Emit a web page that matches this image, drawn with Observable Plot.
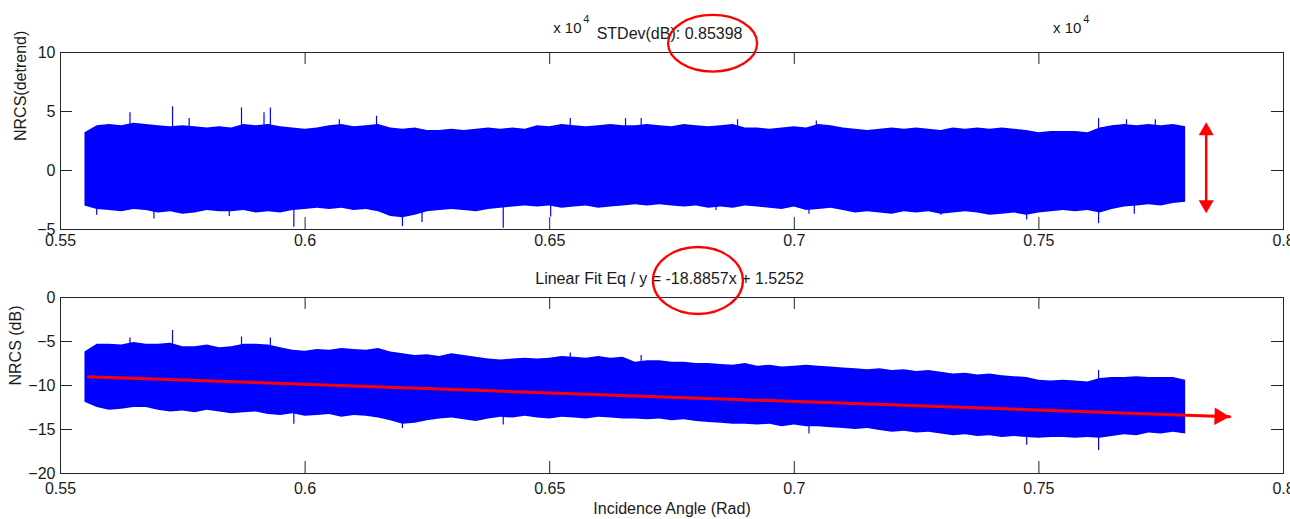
<!DOCTYPE html>
<html>
<head>
<meta charset="utf-8">
<script src="https://cdn.jsdelivr.net/npm/d3@7"></script>
<script src="https://cdn.jsdelivr.net/npm/@observablehq/plot@0.6"></script>
<style>
html, body { margin: 0; padding: 0; background: #ffffff; }
#chart { position: relative; width: 1290px; height: 519px; overflow: hidden; }
#chart svg { position: absolute; left: 0; }
</style>
</head>
<body>
<div id="chart"></div>
<script>
// ---------------- data ----------------
const xTicks = [0.55, 0.6, 0.65, 0.7, 0.75, 0.8];
const xTickLabels = ["0.55", "0.6", "0.65", "0.7", "0.75", "0.8"];
const detrendTicks = [-5, 0, 5, 10];
const dbTicks = [-20, -15, -10, -5, 0];

// incidence angle sample positions (rad)
const angle = [
  0.555,0.5575,0.56,0.5625,0.565,0.5675,0.57,0.5725,0.575,0.5775,
  0.58,0.5825,0.585,0.5875,0.59,0.5925,0.595,0.5975,0.6,0.6025,
  0.605,0.6075,0.61,0.6125,0.615,0.6175,0.62,0.6225,0.625,0.6275,
  0.63,0.6325,0.635,0.6375,0.64,0.6425,0.645,0.6475,0.65,0.6525,
  0.655,0.6575,0.66,0.6625,0.665,0.6675,0.67,0.6725,0.675,0.6775,
  0.68,0.6825,0.685,0.6875,0.69,0.6925,0.695,0.6975,0.7,0.7025,
  0.705,0.7075,0.71,0.7125,0.715,0.7175,0.72,0.7225,0.725,0.7275,
  0.73,0.7325,0.735,0.7375,0.74,0.7425,0.745,0.7475,0.75,0.7525,
  0.755,0.7575,0.76,0.7625,0.765,0.7675,0.77,0.7725,0.775,0.7775,
  0.78
];

// NRCS(detrend): upper / lower envelope of the noisy trace
const detrendUpper = [
  3.2,3.8,3.9,3.8,4.0,3.9,3.8,3.7,3.8,3.7,
  3.6,3.7,3.6,3.9,3.8,3.9,3.7,3.6,3.5,3.6,
  3.8,3.9,3.7,3.8,3.9,3.6,3.5,3.6,3.4,3.4,
  3.5,3.4,3.5,3.6,3.5,3.6,3.5,3.8,3.7,3.9,
  3.8,3.7,3.8,3.9,3.8,3.8,3.9,3.8,3.7,3.9,
  3.8,3.7,3.8,3.9,3.6,3.6,3.5,3.6,3.7,3.6,
  3.9,3.8,3.6,3.5,3.4,3.5,3.6,3.5,3.6,3.5,
  3.4,3.6,3.5,3.6,3.5,3.6,3.5,3.4,3.2,3.3,
  3.3,3.3,3.2,3.6,3.8,3.9,3.8,3.9,3.8,3.9,
  3.7
];
const detrendLower = [
  -3.0,-3.3,-3.4,-3.5,-3.3,-3.4,-3.6,-3.5,-3.7,-3.6,
  -3.4,-3.5,-3.5,-3.4,-3.6,-3.5,-3.6,-3.4,-3.3,-3.2,
  -3.3,-3.2,-3.4,-3.3,-3.5,-3.9,-4.0,-3.8,-3.5,-3.4,
  -3.3,-3.4,-3.5,-3.3,-3.2,-3.1,-3.0,-3.1,-3.0,-3.2,
  -3.1,-3.0,-3.2,-3.1,-3.0,-2.9,-3.0,-2.9,-3.0,-3.1,
  -3.0,-3.2,-3.1,-3.2,-3.0,-3.1,-3.2,-3.3,-3.1,-3.4,
  -3.3,-3.2,-3.4,-3.6,-3.5,-3.6,-3.7,-3.5,-3.6,-3.5,
  -3.7,-3.6,-3.5,-3.6,-3.8,-3.7,-3.6,-3.8,-3.6,-3.5,
  -3.4,-3.5,-3.4,-3.6,-3.3,-3.1,-3.0,-2.9,-3.0,-2.8,
  -2.7
];
// isolated spikes sticking out of the band
const detrendSpikeX = [0.5642,0.5729,0.5763,0.5870,0.5916,0.5929,0.6070,0.6146,0.6542,0.6655,0.6687,0.6884,0.7045,0.7622,0.7679,0.7738,
                       0.5574,0.5691,0.5845,0.5977,0.6199,0.6239,0.6405,0.6502,0.6840,0.7030,0.7300,0.7475,0.7622,0.7695];
const detrendSpikeY = [4.9,5.4,4.4,5.3,4.9,5.3,4.3,4.6,4.4,4.4,4.4,4.3,4.2,4.4,4.3,4.3,
                       -3.8,-4.1,-3.9,-4.8,-4.75,-4.4,-4.9,-3.95,-3.4,-3.7,-3.8,-4.2,-4.5,-3.7];

// NRCS (dB): upper / lower envelope
const dbUpper = [
  -6.2,-5.3,-5.3,-5.4,-5.1,-5.3,-5.3,-5.2,-5.6,-5.6,
  -5.4,-5.7,-5.6,-5.3,-5.3,-5.4,-5.7,-6.0,-6.1,-5.9,
  -6.0,-5.8,-5.9,-6.0,-5.8,-6.2,-6.4,-6.6,-6.5,-6.7,
  -6.4,-6.6,-6.8,-7.0,-7.1,-7.0,-6.9,-7.0,-6.9,-6.7,
  -6.8,-6.9,-6.7,-6.9,-6.8,-7.35,-7.2,-7.2,-7.35,-7.35,
  -7.5,-7.5,-7.6,-7.7,-7.5,-7.8,-7.7,-7.9,-7.8,-7.7,
  -7.8,-7.9,-8.0,-8.1,-8.2,-8.1,-8.3,-8.2,-8.4,-8.3,
  -8.5,-8.7,-8.6,-8.8,-8.7,-8.9,-9.0,-9.1,-9.4,-9.5,
  -9.4,-9.5,-9.6,-9.2,-9.1,-9.1,-9.0,-9.1,-9.1,-9.1,
  -9.4
];
const dbLower = [
  -11.9,-12.5,-12.8,-12.7,-12.5,-12.5,-12.8,-13.0,-12.9,-13.1,
  -12.8,-13.0,-13.2,-13.1,-13.0,-13.3,-13.4,-13.2,-13.5,-13.4,
  -13.3,-13.6,-13.4,-13.5,-13.7,-14.0,-14.4,-14.3,-14.0,-13.8,
  -13.7,-13.9,-14.1,-13.8,-13.6,-13.7,-13.5,-13.7,-13.8,-13.6,
  -13.7,-13.8,-13.6,-13.7,-13.8,-13.8,-13.9,-13.8,-14.0,-13.9,
  -14.1,-14.2,-14.3,-14.4,-14.4,-14.5,-14.4,-14.7,-14.5,-14.7,
  -14.7,-14.8,-14.9,-15.0,-14.9,-15.1,-15.3,-15.2,-15.4,-15.3,
  -15.5,-15.7,-15.6,-15.8,-15.7,-15.9,-15.8,-15.9,-16.0,-15.9,
  -15.9,-16.0,-15.9,-16.0,-15.8,-15.6,-15.7,-15.4,-15.5,-15.3,
  -15.5
];
const dbSpikeX = [0.5642,0.5729,0.5870,0.5929,0.6542,0.6687,0.7622, 0.5977,0.6199,0.6405,0.7030,0.7475,0.7622];
const dbSpikeY = [-4.6,-3.75,-4.5,-4.6,-6.3,-6.6,-8.3, -14.4,-14.9,-14.5,-15.5,-16.8,-17.4];

// linear fit line (end points) and the STDev double arrow
const fitX = [0.5557, 0.789];
const fitY = [-9.0, -13.55];
const stdArrowX = 0.7842;
const stdArrowY = [4.09, -3.62];

// texts
const stdText = "STDev(dB): 0.85398";
const fitText = "Linear Fit Eq / y = -18.8857x + 1.5252";
const expBase = "x 10";
const expPow = "4";
const yLabelTop = "NRCS(detrend)";
const yLabelBottom = "NRCS (dB)";
const xLabel = "Incidence Angle (Rad)";

// ---------------- layout / style ----------------
const W = 1290, ML = 60, MR = 7;
const FW = W - ML - MR;
const ink = "#1a1a1a";
const axisInk = "#262626";
const blue = "#0000ff";
const red = "#ff0000";
const fontFamily = '"Liberation Sans", Arial, Helvetica, sans-serif';
const baseStyle = {fontFamily, fontSize: "16px", color: ink, background: "transparent", overflow: "visible"};
const fmtX = d => xTickLabels[xTicks.indexOf(d)];

function ellipseMark(cxv, cyv, rx, ry) {
  return (index, scales) => {
    const e = d3.create("svg:ellipse")
      .attr("cx", scales.x(cxv)).attr("cy", scales.y(cyv))
      .attr("rx", rx).attr("ry", ry)
      .attr("fill", "none").attr("stroke", red).attr("stroke-width", 2.3);
    return e.node();
  };
}

function boxTicks(yTicks, frameH) {
  return [
    Plot.tickX(xTicks, {x: d => d, insetTop: frameH - 12, stroke: axisInk}),
    Plot.tickX(xTicks, {x: d => d, insetBottom: frameH - 12, stroke: axisInk}),
    Plot.tickY(yTicks, {y: d => d, insetRight: FW - 12, stroke: axisInk}),
    Plot.tickY(yTicks, {y: d => d, insetLeft: FW - 12, stroke: axisInk})
  ];
}

// ---------------- top panel ----------------
const topH = 260, topMT = 52, topMB = 31;
const topFH = topH - topMT - topMB;
const detrendRows = angle.map((a, i) => ({a, lo: detrendLower[i], hi: detrendUpper[i]}));
const detrendSpikes = detrendSpikeX.map((a, i) => ({a, v: detrendSpikeY[i]}));

const topPlot = Plot.plot({
  width: W, height: topH,
  marginLeft: ML, marginRight: MR, marginTop: topMT, marginBottom: topMB,
  style: baseStyle,
  x: {domain: [0.55, 0.8], ticks: xTicks, tickFormat: fmtX, tickSize: 0, tickPadding: 5, label: null},
  y: {domain: [-5, 10], ticks: detrendTicks, tickSize: 0, tickPadding: 5, label: null},
  marks: [
    Plot.areaY(detrendRows, {x: "a", y1: "lo", y2: "hi", fill: blue}),
    Plot.ruleX(detrendSpikes, {x: "a", y1: 0, y2: "v", stroke: blue, strokeWidth: 1.2}),
    Plot.frame({stroke: axisInk}),
    ...boxTicks(detrendTicks, topFH),
    Plot.ruleX([stdArrowX], {x: d => d, y1: 3.3, y2: -2.8, stroke: red, strokeWidth: 2.5}),
    Plot.dot([stdArrowX], {x: d => d, y: () => stdArrowY[0], symbol: "triangle", r: 5.6, fill: red, stroke: null, dy: 8.7}),
    Plot.dot([stdArrowX], {x: d => d, y: () => stdArrowY[1], symbol: "triangle", r: 5.6, fill: red, stroke: null, rotate: 180, dy: -8.7}),
    Plot.text([yLabelTop], {text: d => d, frameAnchor: "left", dx: -40, rotate: -90, fontSize: 16, fill: ink}),
    Plot.text([{x: 0.6745, y: 11.57, t: stdText}], {x: "x", y: "y", text: "t", fontSize: 16, fill: ink}),
    Plot.text([{x: 0.6536, y: 12.03, t: expBase}, {x: 0.7558, y: 12.03, t: expBase}], {x: "x", y: "y", text: "t", fontSize: 15, fill: ink}),
    Plot.text([{x: 0.6575, y: 12.78, t: expPow}, {x: 0.7597, y: 12.78, t: expPow}], {x: "x", y: "y", text: "t", fontSize: 11, fill: ink}),
    ellipseMark(0.6834, 10.74, 44.5, 28.3)
  ]
});
topPlot.style.top = "0px";

// ---------------- bottom panel ----------------
const botTop = 260, botH = 259, botMT = 37, botMB = 46;
const botFH = botH - botMT - botMB;
const dbRows = angle.map((a, i) => ({a, lo: dbLower[i], hi: dbUpper[i]}));
const dbSpikes = dbSpikeX.map((a, i) => ({a, v: dbSpikeY[i]}));
const fitRows = fitX.map((a, i) => ({a, v: fitY[i]}));

const botPlot = Plot.plot({
  width: W, height: botH,
  marginLeft: ML, marginRight: MR, marginTop: botMT, marginBottom: botMB,
  style: baseStyle,
  x: {domain: [0.55, 0.8], ticks: xTicks, tickFormat: fmtX, tickSize: 0, tickPadding: 9, label: null},
  y: {domain: [-20, 0], ticks: dbTicks, tickSize: 0, tickPadding: 5, label: null},
  marks: [
    Plot.areaY(dbRows, {x: "a", y1: "lo", y2: "hi", fill: blue}),
    Plot.ruleX(dbSpikes, {x: "a", y1: -11, y2: "v", stroke: blue, strokeWidth: 1.2}),
    Plot.frame({stroke: axisInk}),
    ...boxTicks(dbTicks, botFH),
    Plot.line(fitRows, {x: "a", y: "v", stroke: red, strokeWidth: 3}),
    Plot.dot([fitRows[1]], {x: "a", y: "v", symbol: "triangle", r: 6.5, fill: red, stroke: null, rotate: 92, dx: -10.1, dy: -0.35}),
    Plot.text([yLabelBottom], {text: d => d, frameAnchor: "left", dx: -45, rotate: -90, fontSize: 16, fill: ink}),
    Plot.text([xLabel], {text: d => d, frameAnchor: "bottom", lineAnchor: "middle", dy: 35, fontSize: 16, fill: ink}),
    Plot.text([{x: 0.6745, y: 2.07, t: fitText}], {x: "x", y: "y", text: "t", fontSize: 16, fill: ink}),
    ellipseMark(0.6804, 1.875, 45, 33.5)
  ]
});
botPlot.style.top = botTop + "px";

const chart = document.getElementById("chart");
chart.appendChild(topPlot);
chart.appendChild(botPlot);
</script>
</body>
</html>
